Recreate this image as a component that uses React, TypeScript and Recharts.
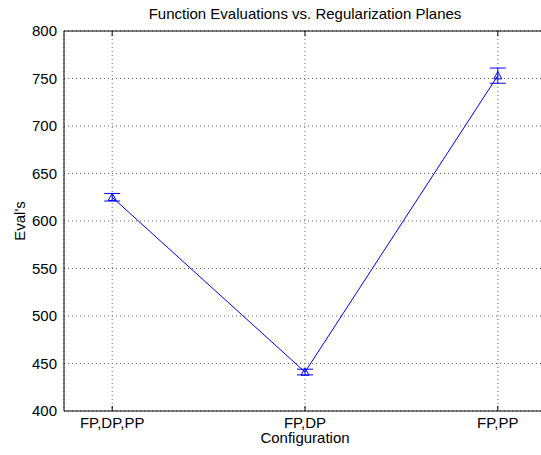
import React from 'react';
import { LineChart, Line, XAxis, YAxis, CartesianGrid, ErrorBar } from 'recharts';

const categories = ['FP,DP,PP', 'FP,DP', 'FP,PP'];
const positions = [1, 2, 3];
const evals = [625, 441, 753];
const errors = [4, 3, 8];
const yTicks = [400, 450, 500, 550, 600, 650, 700, 750, 800];

const data = positions.map((p, i) => ({ x: p, y: evals[i], err: errors[i] }));

const FONT = '"Liberation Sans", Arial, sans-serif';
const BLUE = '#0000ff';

const Tri = (props: any) => {
  const { cx, cy } = props;
  if (cx == null || cy == null) return null;
  const s = 4;
  return (
    <path
      d={`M${cx},${cy - s} L${cx + s},${cy + s * 0.8} L${cx - s},${cy + s * 0.8} Z`}
      fill="none"
      stroke={BLUE}
      strokeWidth={1}
    />
  );
};

export default function App() {
  return (
    <div style={{ position: 'absolute', left: 0, top: 0, width: 541, height: 455, overflow: 'hidden', background: '#fff' }}>
      <div
        style={{
          position: 'absolute',
          left: 64,
          width: 482,
          top: 5,
          textAlign: 'center',
          fontFamily: FONT,
          fontSize: 15,
          lineHeight: '17px',
          color: '#000',
        }}
      >
        Function Evaluations vs. Regularization Planes
      </div>
      <LineChart width={560} height={455} data={data} margin={{ top: 31, right: 14, bottom: 14, left: 8 }}>
        <CartesianGrid stroke="#666" strokeDasharray="1 3" vertical horizontal />
        <XAxis
          dataKey="x"
          type="number"
          domain={[0.75, 3.25]}
          ticks={positions}
          tickFormatter={(v: number) => categories[positions.indexOf(v)] ?? ''}
          tickLine={false}
          tickSize={0}
          tickMargin={6}
          height={30}
          axisLine={{ stroke: '#000' }}
          tick={{ fill: '#000', fontSize: 15, fontFamily: FONT }}
          interval={0}
          label={({ viewBox }: any) => (
            <text
              x={viewBox.x + viewBox.width / 2}
              y={viewBox.y + 32}
              textAnchor="middle"
              fontFamily={FONT}
              fontSize={15}
              fill="#000"
            >
              Configuration
            </text>
          )}
        />
        <XAxis
          xAxisId="bt"
          dataKey="x"
          type="number"
          domain={[0.75, 3.25]}
          ticks={positions}
          mirror
          tickSize={5}
          tickFormatter={() => ''}
          axisLine={false}
          tickLine={{ stroke: '#000' }}
        />
        <XAxis
          xAxisId="top"
          orientation="top"
          dataKey="x"
          type="number"
          domain={[0.75, 3.25]}
          ticks={positions}
          mirror
          tickSize={5}
          tickFormatter={() => ''}
          axisLine={{ stroke: '#000' }}
          tickLine={{ stroke: '#000' }}
        />
        <YAxis
          type="number"
          domain={[400, 800]}
          ticks={yTicks}
          tickLine={false}
          tickSize={0}
          tickMargin={7}
          width={56}
          axisLine={{ stroke: '#000' }}
          tick={{ fill: '#000', fontSize: 15, fontFamily: FONT }}
          interval={0}
          label={({ viewBox }: any) => (
            <text
              x={viewBox.x + 17}
              y={viewBox.y + viewBox.height / 2}
              transform={`rotate(-90, ${viewBox.x + 17}, ${viewBox.y + viewBox.height / 2})`}
              textAnchor="middle"
              fontFamily={FONT}
              fontSize={15}
              fill="#000"
            >
              Eval's
            </text>
          )}
        />
        <YAxis
          yAxisId="lt"
          type="number"
          domain={[400, 800]}
          ticks={yTicks}
          mirror
          tickSize={5}
          tickFormatter={() => ''}
          axisLine={false}
          tickLine={{ stroke: '#000' }}
        />
        <YAxis
          yAxisId="rt"
          orientation="right"
          type="number"
          domain={[400, 800]}
          ticks={yTicks}
          mirror
          tickSize={5}
          tickFormatter={() => ''}
          axisLine={{ stroke: '#000' }}
          tickLine={{ stroke: '#000' }}
        />
        <Line
          dataKey="y"
          stroke={BLUE}
          strokeWidth={1}
          dot={<Tri />}
          activeDot={false}
          isAnimationActive={false}
        >
          <ErrorBar dataKey="err" width={8} stroke={BLUE} strokeWidth={1} direction="y" />
        </Line>
      </LineChart>
    </div>
  );
}
